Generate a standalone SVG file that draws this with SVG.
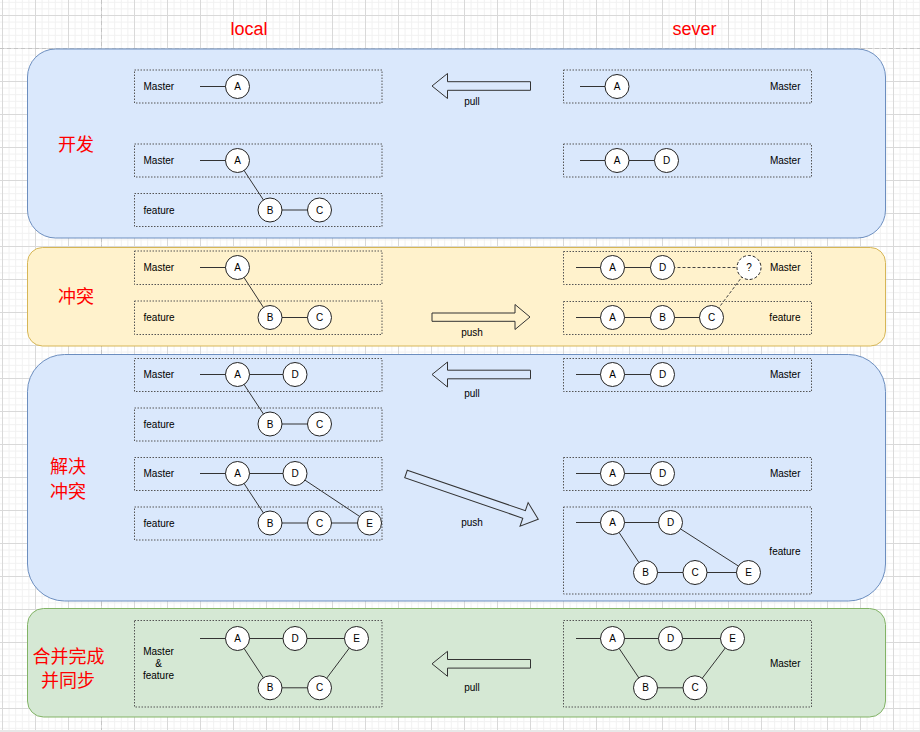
<svg xmlns="http://www.w3.org/2000/svg" width="920" height="732" viewBox="0 0 920 732">
<defs>
<pattern id="grid" patternUnits="userSpaceOnUse" x="2" y="15" width="33" height="33">
<path d="M7.1 0V33M13.7 0V33M20.3 0V33M26.9 0V33M0 7.1H33M0 13.7H33M0 20.3H33M0 26.9H33" stroke="#f1f1f1" stroke-width="1" fill="none"/>
<path d="M0.5 0V33M0 0.5H33" stroke="#d9d9d9" stroke-width="1" fill="none"/>
</pattern>
<style>
.page{stroke:#c4c4c4;stroke-width:1;stroke-dasharray:4 3;fill:none}
.lane{fill:none;stroke:#555;stroke-width:1;stroke-dasharray:1.5 1.5}
.c{stroke:#333;stroke-width:1;fill:none}
.d{stroke:#444;stroke-width:1;fill:none;stroke-dasharray:3 2}
.n circle{fill:#fff;stroke:#222;stroke-width:1}
.n text,.t{font-family:"Liberation Sans",Arial,sans-serif;font-size:10px;fill:#000}
.n text{text-anchor:middle}
.q circle{stroke-dasharray:3 2}
.arr{fill:none;stroke:#333;stroke-width:1}
.al{font-family:"Liberation Sans",Arial,sans-serif;font-size:10px;fill:#000;text-anchor:middle}
.r{text-anchor:end}
.m{text-anchor:middle}
.red{font-family:"Noto Sans CJK SC","Liberation Sans",sans-serif;font-size:18px;fill:#ff0000;text-anchor:middle}
.hd{font-family:"Liberation Sans",Arial,sans-serif;font-size:18px;fill:#ff0000;text-anchor:middle}
</style>
</defs>
<rect x="0" y="0" width="920" height="732" fill="#ffffff"/>
<rect x="0" y="0" width="920" height="732" fill="url(#grid)"/>
<path class="page" d="M101.5 0V732M0 48.5H920"/>
<rect x="0" y="730" width="920" height="2" fill="#e8e8e8"/>

<text class="hd" x="249" y="34.5">local</text>
<text class="hd" x="694.5" y="34.5">sever</text>

<g id="panel-dev"><rect x="27.5" y="49" width="858" height="189" rx="28" ry="28" fill="#dae8fc" stroke="#6c8ebf"/></g>
<g id="panel-conflict"><rect x="27.5" y="247.5" width="858" height="98.5" rx="15" ry="15" fill="#fff2cc" stroke="#d6b656"/></g>
<g id="panel-resolve"><rect x="27.5" y="354.5" width="858" height="246.5" rx="37" ry="37" fill="#dae8fc" stroke="#6c8ebf"/></g>
<g id="panel-merge"><rect x="27.5" y="608.5" width="858" height="108.5" rx="16" ry="16" fill="#d5e8d4" stroke="#82b366"/></g>

<text class="red" x="76" y="150.5">开发</text>
<text class="red" x="76" y="303">冲突</text>
<text class="red" x="68" y="473">解决</text>
<text class="red" x="68" y="497.5">冲突</text>
<text class="red" x="68.5" y="662.5">合并完成</text>
<text class="red" x="68" y="687">并同步</text>

<!-- lanes -->
<g id="lane-l1"><rect class="lane" x="134.5" y="70" width="247.5" height="33"/><text class="t" x="143.5" y="90">Master</text></g>
<g id="lane-l2"><rect class="lane" x="134.5" y="144" width="247.5" height="33"/><text class="t" x="143.5" y="164">Master</text></g>
<g id="lane-l3"><rect class="lane" x="134.5" y="193.5" width="247.5" height="33"/><text class="t" x="143.5" y="213.5">feature</text></g>
<g id="lane-r1"><rect class="lane" x="563.5" y="70" width="248" height="33"/><text class="t r" x="800.5" y="90">Master</text></g>
<g id="lane-r2"><rect class="lane" x="563.5" y="144" width="248" height="33"/><text class="t r" x="800.5" y="164">Master</text></g>

<g id="lane-l4"><rect class="lane" x="134.5" y="251" width="247.5" height="33.5"/><text class="t" x="143.5" y="271">Master</text></g>
<g id="lane-l5"><rect class="lane" x="134.5" y="301" width="247.5" height="33.5"/><text class="t" x="143.5" y="321">feature</text></g>
<g id="lane-r3"><rect class="lane" x="563.5" y="251.5" width="248" height="33"/><text class="t r" x="800.5" y="271">Master</text></g>
<g id="lane-r4"><rect class="lane" x="563.5" y="301.5" width="248" height="33"/><text class="t r" x="800.5" y="321">feature</text></g>

<g id="lane-l6"><rect class="lane" x="134.5" y="358.5" width="247.5" height="33"/><text class="t" x="143.5" y="378">Master</text></g>
<g id="lane-l7"><rect class="lane" x="134.5" y="408" width="247.5" height="33"/><text class="t" x="143.5" y="427.5">feature</text></g>
<g id="lane-l8"><rect class="lane" x="134.5" y="457.5" width="247.5" height="33"/><text class="t" x="143.5" y="477">Master</text></g>
<g id="lane-l9"><rect class="lane" x="134.5" y="507" width="247.5" height="33"/><text class="t" x="143.5" y="526.5">feature</text></g>
<g id="lane-r5"><rect class="lane" x="563.5" y="358.5" width="248" height="33"/><text class="t r" x="800.5" y="378">Master</text></g>
<g id="lane-r6"><rect class="lane" x="563.5" y="457.5" width="248" height="33"/><text class="t r" x="800.5" y="477">Master</text></g>
<g id="lane-r7"><rect class="lane" x="563.5" y="507" width="248" height="87"/><text class="t r" x="800.5" y="555.3">feature</text></g>

<g id="lane-l10"><rect class="lane" x="134.5" y="620.5" width="247.5" height="86.5"/><text class="t m" x="158.5" y="655">Master</text><text class="t m" x="158.5" y="667">&amp;</text><text class="t m" x="158.5" y="679.3">feature</text></g>
<g id="lane-r8"><rect class="lane" x="563.5" y="620.5" width="248" height="86.5"/><text class="t r" x="800.5" y="667.3">Master</text></g>

<!-- connectors -->
<g id="connectors">
<path class="c" d="M200 86.5H237.5M200 160.5H237.5M237.5 160.5L270 210M270 210H319.5"/>
<path class="c" d="M580 86.5H617M580 160.5H666.5"/>
<path class="c" d="M200 267.5H237.5M237.5 267.5L270 317.5M270 317.5H319.5"/>
<path class="c" d="M576 267.5H662.5M576 317.5H711.5"/>
<path class="d" d="M662.5 267.5H749M711.5 317.5L749 267.5"/>
<path class="c" d="M200 374.5H295M237.5 374.5L270 424M270 424H319.5"/>
<path class="c" d="M200 473.5H295M237.5 473.5L270 523M270 523H369.5M295 473.5L369.5 523"/>
<path class="c" d="M576 374.5H662.5M576 473.5H662.5"/>
<path class="c" d="M576 522.5H670.5M612.5 522.5L645.5 572.5M645.5 572.5H748.5M670.5 522.5L748.5 572.5"/>
<path class="c" d="M200 638.5H356.5M237.5 638.5L270 687.8M270 687.8H319.5M319.5 687.8L356.5 638.5"/>
<path class="c" d="M576 638.5H732.5M612.5 638.5L645.5 687.8M645.5 687.8H695M695 687.8L732.5 638.5"/>
</g>

<!-- nodes -->
<g id="s1-l-a1" class="n"><circle cx="237.5" cy="86.5" r="12"/><text x="237.5" y="90.1">A</text></g>
<g id="s1-l-a2" class="n"><circle cx="237.5" cy="160.5" r="12"/><text x="237.5" y="164.1">A</text></g>
<g id="s1-l-b" class="n"><circle cx="270" cy="210" r="12"/><text x="270" y="213.6">B</text></g>
<g id="s1-l-c" class="n"><circle cx="319.5" cy="210" r="12"/><text x="319.5" y="213.6">C</text></g>
<g id="s1-r-a1" class="n"><circle cx="617" cy="86.5" r="12"/><text x="617" y="90.1">A</text></g>
<g id="s1-r-a2" class="n"><circle cx="617" cy="160.5" r="12"/><text x="617" y="164.1">A</text></g>
<g id="s1-r-d" class="n"><circle cx="666.5" cy="160.5" r="12"/><text x="666.5" y="164.1">D</text></g>

<g id="s2-l-a" class="n"><circle cx="237.5" cy="267.5" r="12"/><text x="237.5" y="271.1">A</text></g>
<g id="s2-l-b" class="n"><circle cx="270" cy="317.5" r="12"/><text x="270" y="321.1">B</text></g>
<g id="s2-l-c" class="n"><circle cx="319.5" cy="317.5" r="12"/><text x="319.5" y="321.1">C</text></g>
<g id="s2-r-a1" class="n"><circle cx="612.5" cy="267.5" r="12"/><text x="612.5" y="271.1">A</text></g>
<g id="s2-r-d" class="n"><circle cx="662.5" cy="267.5" r="12"/><text x="662.5" y="271.1">D</text></g>
<g id="s2-r-q" class="n q"><circle cx="749" cy="267.5" r="12"/><text x="749" y="271.1">?</text></g>
<g id="s2-r-a2" class="n"><circle cx="612.5" cy="317.5" r="12"/><text x="612.5" y="321.1">A</text></g>
<g id="s2-r-b" class="n"><circle cx="662.5" cy="317.5" r="12"/><text x="662.5" y="321.1">B</text></g>
<g id="s2-r-c" class="n"><circle cx="711.5" cy="317.5" r="12"/><text x="711.5" y="321.1">C</text></g>

<g id="s3-l-a1" class="n"><circle cx="237.5" cy="374.5" r="12"/><text x="237.5" y="378.1">A</text></g>
<g id="s3-l-d1" class="n"><circle cx="295" cy="374.5" r="12"/><text x="295" y="378.1">D</text></g>
<g id="s3-l-b1" class="n"><circle cx="270" cy="424" r="12"/><text x="270" y="427.6">B</text></g>
<g id="s3-l-c1" class="n"><circle cx="319.5" cy="424" r="12"/><text x="319.5" y="427.6">C</text></g>
<g id="s3-l-a2" class="n"><circle cx="237.5" cy="473.5" r="12"/><text x="237.5" y="477.1">A</text></g>
<g id="s3-l-d2" class="n"><circle cx="295" cy="473.5" r="12"/><text x="295" y="477.1">D</text></g>
<g id="s3-l-b2" class="n"><circle cx="270" cy="523" r="12"/><text x="270" y="526.6">B</text></g>
<g id="s3-l-c2" class="n"><circle cx="319.5" cy="523" r="12"/><text x="319.5" y="526.6">C</text></g>
<g id="s3-l-e" class="n"><circle cx="369.5" cy="523" r="12"/><text x="369.5" y="526.6">E</text></g>
<g id="s3-r-a1" class="n"><circle cx="612.5" cy="374.5" r="12"/><text x="612.5" y="378.1">A</text></g>
<g id="s3-r-d1" class="n"><circle cx="662.5" cy="374.5" r="12"/><text x="662.5" y="378.1">D</text></g>
<g id="s3-r-a2" class="n"><circle cx="612.5" cy="473.5" r="12"/><text x="612.5" y="477.1">A</text></g>
<g id="s3-r-d2" class="n"><circle cx="662.5" cy="473.5" r="12"/><text x="662.5" y="477.1">D</text></g>
<g id="s3-r-a3" class="n"><circle cx="612.5" cy="522.5" r="12"/><text x="612.5" y="526.1">A</text></g>
<g id="s3-r-d3" class="n"><circle cx="670.5" cy="522.5" r="12"/><text x="670.5" y="526.1">D</text></g>
<g id="s3-r-b" class="n"><circle cx="645.5" cy="572.5" r="12"/><text x="645.5" y="576.1">B</text></g>
<g id="s3-r-c" class="n"><circle cx="695" cy="572.5" r="12"/><text x="695" y="576.1">C</text></g>
<g id="s3-r-e" class="n"><circle cx="748.5" cy="572.5" r="12"/><text x="748.5" y="576.1">E</text></g>

<g id="s4-l-a" class="n"><circle cx="237.5" cy="638.5" r="12"/><text x="237.5" y="642.1">A</text></g>
<g id="s4-l-d" class="n"><circle cx="295" cy="638.5" r="12"/><text x="295" y="642.1">D</text></g>
<g id="s4-l-e" class="n"><circle cx="356.5" cy="638.5" r="12"/><text x="356.5" y="642.1">E</text></g>
<g id="s4-l-b" class="n"><circle cx="270" cy="687.8" r="12"/><text x="270" y="691.4">B</text></g>
<g id="s4-l-c" class="n"><circle cx="319.5" cy="687.8" r="12"/><text x="319.5" y="691.4">C</text></g>
<g id="s4-r-a" class="n"><circle cx="612.5" cy="638.5" r="12"/><text x="612.5" y="642.1">A</text></g>
<g id="s4-r-d" class="n"><circle cx="670.5" cy="638.5" r="12"/><text x="670.5" y="642.1">D</text></g>
<g id="s4-r-e" class="n"><circle cx="732.5" cy="638.5" r="12"/><text x="732.5" y="642.1">E</text></g>
<g id="s4-r-b" class="n"><circle cx="645.5" cy="687.8" r="12"/><text x="645.5" y="691.4">B</text></g>
<g id="s4-r-c" class="n"><circle cx="695" cy="687.8" r="12"/><text x="695" y="691.4">C</text></g>

<!-- block arrows -->
<g id="arrow-pull-1"><polygon class="arr" points="432,86 447.5,73.5 447.5,81.7 530.5,81.7 530.5,90.3 447.5,90.3 447.5,98.5"/><text class="al" x="472" y="104.7">pull</text></g>
<g id="arrow-push-1"><polygon class="arr" points="530,317 515,304.5 515,313 432,313 432,321.3 515,321.3 515,329.5"/><text class="al" x="472" y="335.7">push</text></g>
<g id="arrow-pull-2"><polygon class="arr" points="432,374.5 447.5,362 447.5,370.2 530.5,370.2 530.5,378.8 447.5,378.8 447.5,387"/><text class="al" x="472" y="397.3">pull</text></g>
<g id="arrow-push-2"><polygon class="arr" transform="translate(406,474) rotate(18.9)" points="0,-4 124.8,-4 124.8,-12.5 139.8,0 124.8,12.5 124.8,4 0,4"/><text class="al" x="472" y="525.7">push</text></g>
<g id="arrow-pull-3"><polygon class="arr" points="432,663.8 447.5,651.3 447.5,659.5 530.5,659.5 530.5,668.1 447.5,668.1 447.5,676.3"/><text class="al" x="472" y="690.7">pull</text></g>
</svg>
